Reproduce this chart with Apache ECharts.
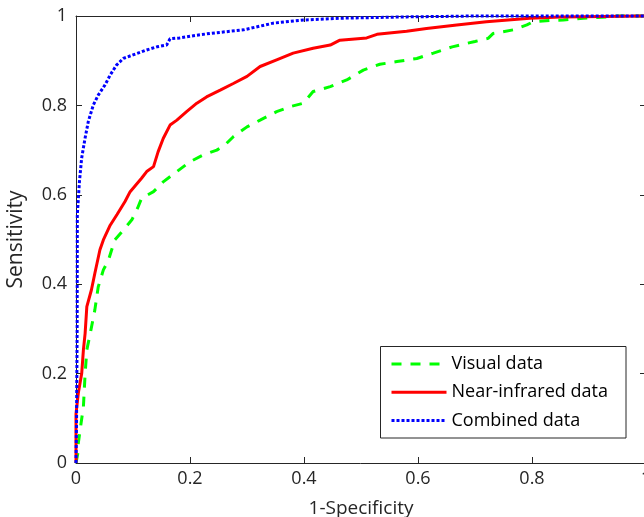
<!DOCTYPE html>
<html>
<head>
<meta charset="utf-8">
<script src="https://cdn.jsdelivr.net/npm/echarts@6/dist/echarts.min.js"></script>
<style>
html,body{margin:0;padding:0;background:#fff;}
#chart{width:644px;height:517px;}
</style>
</head>
<body>
<div id="chart"></div>
<script>
const seriesNames = ['Visual data', 'Near-infrared data', 'Combined data'];
const xTickLabels = ['0', '0.2', '0.4', '0.6', '0.8', '1'];
const yTickLabels = ['0', '0.2', '0.4', '0.6', '0.8', '1'];

const visualX = [0, 0.003, 0.004, 0.008, 0.013, 0.016, 0.019, 0.025, 0.033, 0.039, 0.048, 0.057, 0.068, 0.083, 0.098, 0.108, 0.115, 0.136, 0.153, 0.177, 0.200, 0.223, 0.247, 0.261, 0.276, 0.300, 0.323, 0.352, 0.375, 0.399, 0.416, 0.446, 0.475, 0.504, 0.533, 0.563, 0.598, 0.627, 0.660, 0.700, 0.723, 0.732, 0.767, 0.791, 0.802, 0.832, 0.855, 0.890, 0.931, 0.950, 1.0];
const visualY = [0, 0.02, 0.044, 0.081, 0.126, 0.20, 0.253, 0.29, 0.342, 0.394, 0.432, 0.454, 0.499, 0.521, 0.544, 0.570, 0.592, 0.607, 0.629, 0.652, 0.674, 0.689, 0.700, 0.711, 0.730, 0.752, 0.767, 0.786, 0.797, 0.805, 0.831, 0.842, 0.857, 0.879, 0.892, 0.898, 0.905, 0.917, 0.931, 0.943, 0.950, 0.961, 0.969, 0.980, 0.987, 0.990, 0.991, 0.995, 0.998, 1.0, 1.0];

const nirX = [0, 0, 0.004, 0.010, 0.013, 0.016, 0.019, 0.027, 0.033, 0.042, 0.048, 0.060, 0.072, 0.086, 0.095, 0.115, 0.124, 0.136, 0.144, 0.153, 0.165, 0.177, 0.194, 0.212, 0.229, 0.253, 0.276, 0.300, 0.323, 0.352, 0.381, 0.416, 0.446, 0.463, 0.510, 0.528, 0.580, 0.615, 0.668, 0.720, 0.796, 0.850, 1.0];
const nirY = [0, 0.11, 0.156, 0.20, 0.253, 0.29, 0.35, 0.387, 0.424, 0.477, 0.499, 0.532, 0.556, 0.585, 0.607, 0.637, 0.652, 0.663, 0.696, 0.726, 0.756, 0.767, 0.786, 0.805, 0.819, 0.834, 0.849, 0.865, 0.887, 0.902, 0.917, 0.928, 0.935, 0.946, 0.951, 0.959, 0.966, 0.972, 0.98, 0.987, 0.995, 0.998, 1.0];

const combinedX = [0, 0.001, 0.002, 0.0023, 0.006, 0.0099, 0.0158, 0.0216, 0.0304, 0.039, 0.051, 0.060, 0.071, 0.083, 0.10, 0.124, 0.142, 0.159, 0.165, 0.182, 0.206, 0.235, 0.294, 0.346, 0.399, 0.463, 0.580, 0.700, 1.0];
const combinedY = [0, 0.10, 0.30, 0.555, 0.629, 0.682, 0.726, 0.764, 0.801, 0.823, 0.846, 0.868, 0.890, 0.905, 0.913, 0.924, 0.931, 0.935, 0.949, 0.951, 0.956, 0.961, 0.969, 0.984, 0.991, 0.995, 0.998, 1.0, 1.0];

function zip(xs, ys) { return xs.map((x, i) => [x, ys[i]]); }

const FONT = 'Open Sans';
const AX = '#262626';

function tickFmt(labels) {
  return function (v) { return labels[Math.round(v / 0.2)]; };
}

const baseAxis = {
  type: 'value', min: 0, max: 1, interval: 0.2,
  axisLine: { show: true, onZero: false, lineStyle: { color: AX, width: 1 } },
  axisTick: { show: true, inside: true, length: 6, lineStyle: { color: AX, width: 1 } },
  splitLine: { show: false }
};

const chart = echarts.init(document.getElementById('chart'), null, { renderer: 'canvas' });
chart.setOption({
  animation: false,
  backgroundColor: '#fff',
  textStyle: { fontFamily: FONT },
  grid: { left: 76, top: 16, width: 570, height: 447, containLabel: false, outerBoundsMode: 'none' },
  xAxis: [
    Object.assign({}, baseAxis, {
      position: 'bottom',
      axisLabel: { show: true, formatter: tickFmt(xTickLabels), fontSize: 18, color: AX, margin: 7, fontFamily: FONT },
      name: '1-Specificity', nameLocation: 'middle', nameGap: 36,
      nameTextStyle: { fontSize: 19, color: AX, fontFamily: FONT, verticalAlign: 'top' }
    }),
    Object.assign({}, baseAxis, { position: 'top', axisLabel: { show: false } })
  ],
  yAxis: [
    Object.assign({}, baseAxis, {
      position: 'left',
      axisLabel: { show: true, formatter: tickFmt(yTickLabels), fontSize: 18, color: AX, margin: 9, fontFamily: FONT },
      name: 'Sensitivity', nameLocation: 'middle', nameGap: 49, nameRotate: 90,
      nameTextStyle: { fontSize: 21, color: AX, fontFamily: FONT }
    }),
    Object.assign({}, baseAxis, { position: 'right', axisLabel: { show: false } })
  ],
  legend: {
    orient: 'vertical', left: 390, top: 354, padding: 0,
    itemWidth: 55, itemHeight: 20, itemGap: 8.3,
    textStyle: { fontSize: 18, color: '#000', fontFamily: FONT, lineHeight: 20 },
    lineStyle: { width: 3 },
    itemStyle: { opacity: 0, borderWidth: 0 },
    data: seriesNames
  },
  graphic: [{
    type: 'rect', z: 0,
    shape: { x: 380.5, y: 346.5, width: 245.5, height: 91.5 },
    style: { fill: '#fff', stroke: AX, lineWidth: 1 }
  }],
  series: [
    { name: seriesNames[0], type: 'line', data: zip(visualX, visualY), symbol: 'none', clip: false,
      lineStyle: { color: '#00ff00', width: 3, type: [10, 9], cap: 'butt' }, itemStyle: { color: '#00ff00' } },
    { name: seriesNames[1], type: 'line', data: zip(nirX, nirY), symbol: 'none', clip: false,
      lineStyle: { color: '#ff0000', width: 3, type: 'solid' }, itemStyle: { color: '#ff0000' } },
    { name: seriesNames[2], type: 'line', data: zip(combinedX, combinedY), symbol: 'none', clip: false,
      lineStyle: { color: '#0000ff', width: 3, type: [3, 2], cap: 'butt' }, itemStyle: { color: '#0000ff' } }
  ]
});
</script>
</body>
</html>
